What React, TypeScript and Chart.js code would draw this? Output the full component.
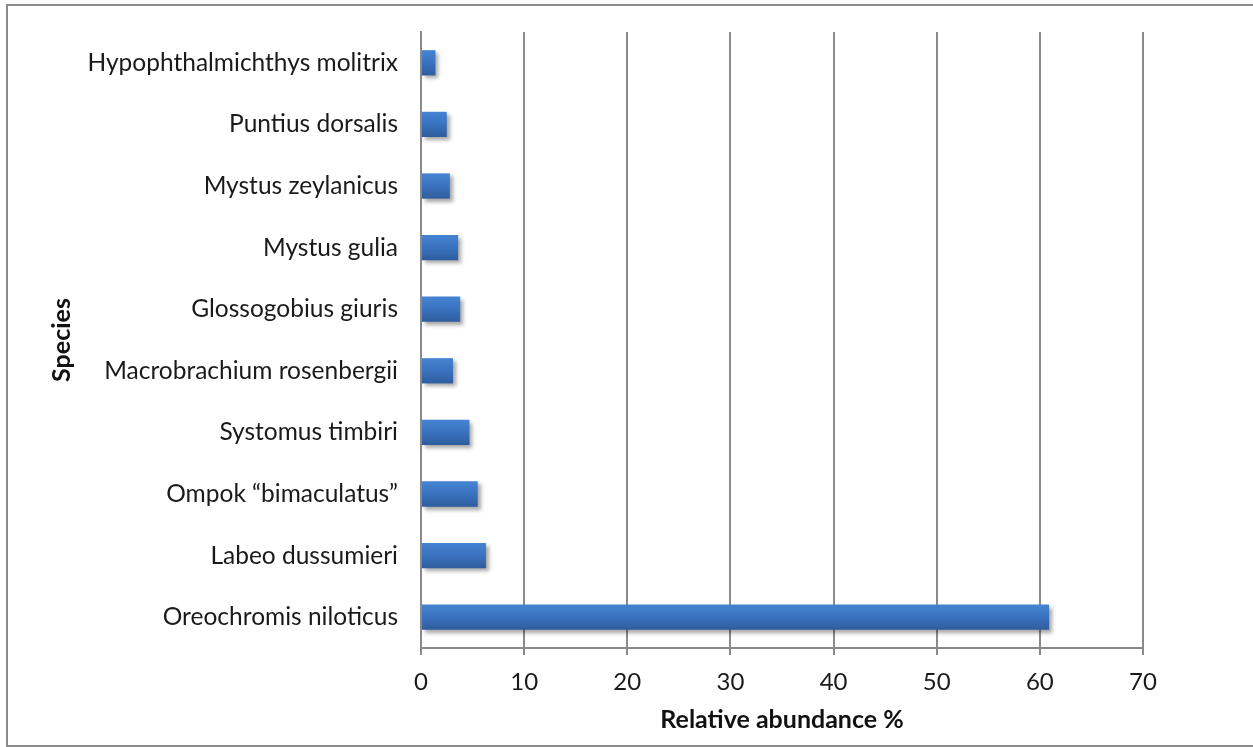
import React, { useEffect, useRef } from "react";
import { Chart, registerables } from "chart.js";

Chart.register(...registerables);

const species: string[] = [
  "Hypophthalmichthys molitrix",
  "Puntius dorsalis",
  "Mystus zeylanicus",
  "Mystus gulia",
  "Glossogobius giuris",
  "Macrobrachium rosenbergii",
  "Systomus timbiri",
  "Ompok \u201cbimaculatus\u201d",
  "Labeo dussumieri",
  "Oreochromis niloticus",
];

const abundance: number[] = [1.4, 2.5, 2.8, 3.6, 3.8, 3.1, 4.7, 5.5, 6.3, 60.9];

const xTicks: number[] = [0, 10, 20, 30, 40, 50, 60, 70];

const FONT = "Lato, 'Liberation Sans', sans-serif";
const GRID = "#8a8a8a";

const shadowPlugin = {
  id: "barShadow",
  beforeDatasetsDraw(chart: any) {
    const ctx = chart.ctx;
    ctx.save();
    ctx.shadowColor = "rgba(0,0,0,0.35)";
    ctx.shadowOffsetX = 3;
    ctx.shadowOffsetY = 3;
    ctx.shadowBlur = 4;
  },
  afterDatasetsDraw(chart: any) {
    chart.ctx.restore();
  },
};

export default function App() {
  const ref = useRef<HTMLCanvasElement | null>(null);

  useEffect(() => {
    if (!ref.current) return;
    const chart = new Chart(ref.current, {
      type: "bar",
      data: {
        labels: species,
        datasets: [
          {
            data: abundance,
            backgroundColor: (c: any) => {
              const ys = c.chart.scales && c.chart.scales.y;
              if (!ys || c.type !== "data") return "#3a6fb5";
              const cy = ys.getPixelForValue(c.dataIndex);
              if (!isFinite(cy)) return "#3a6fb5";
              const g = c.chart.ctx.createLinearGradient(0, cy - 13, 0, cy + 13);
              g.addColorStop(0, "#4584d3");
              g.addColorStop(0.5, "#3a72bf");
              g.addColorStop(1, "#2d5c9c");
              return g;
            },
            borderWidth: 0,
            barPercentage: 0.82,
            categoryPercentage: 0.5,
          },
        ],
      },
      options: {
        indexAxis: "y",
        responsive: false,
        animation: false,
        devicePixelRatio: 1,
        layout: { padding: { left: 47, top: 32, right: 110, bottom: 0 } },
        plugins: {
          legend: { display: false },
          tooltip: { enabled: false },
          title: { display: false },
        },
        scales: {
          x: {
            type: "linear",
            min: 0,
            max: 70,
            afterBuildTicks: (scale: any) => {
              scale.ticks = xTicks.map((v) => ({ value: v }));
            },
            afterFit: (scale: any) => {
              scale.height = 99;
            },
            grid: {
              display: true,
              color: GRID,
              lineWidth: 2,
              tickLength: 7,
              drawTicks: true,
            },
            border: { display: true, color: GRID, width: 2 },
            ticks: {
              padding: 13,
              color: "#1a1a1a",
              font: { family: FONT, size: 24 },
            },
            title: {
              display: true,
              text: "Relative abundance %",
              color: "#111",
              font: { family: FONT, size: 25, weight: "bold" },
              padding: { top: 0, bottom: 12 },
            },
          },
          y: {
            type: "category",
            afterFit: (scale: any) => {
              scale.width = 374;
              scale.paddingTop = 0;
              scale.paddingBottom = 0;
            },
            grid: { display: false, drawTicks: false },
            border: { display: true, color: GRID, width: 2 },
            ticks: {
              padding: 23,
              color: "#1a1a1a",
              font: { family: FONT, size: 24.5 },
            },
            title: {
              display: true,
              text: "Species",
              color: "#111",
              font: { family: FONT, size: 25, weight: "bold" },
              padding: { top: 0, bottom: 0 },
            },
          },
        },
      } as any,
      plugins: [shadowPlugin],
    });
    return () => chart.destroy();
  }, []);

  return (
    <div
      style={{
        position: "absolute",
        left: 0,
        top: 0,
        width: 1253,
        height: 747,
        background: "#fff",
        overflow: "hidden",
      }}
    >
      <canvas
        ref={ref}
        width={1253}
        height={747}
        style={{ position: "absolute", left: 0, top: 0, width: 1253, height: 747 }}
      />
      <div
        style={{
          position: "absolute",
          left: 6,
          top: 4,
          width: 1260,
          height: 743,
          border: "2px solid #8c8c8c",
          boxSizing: "border-box",
          pointerEvents: "none",
        }}
      />
    </div>
  );
}
